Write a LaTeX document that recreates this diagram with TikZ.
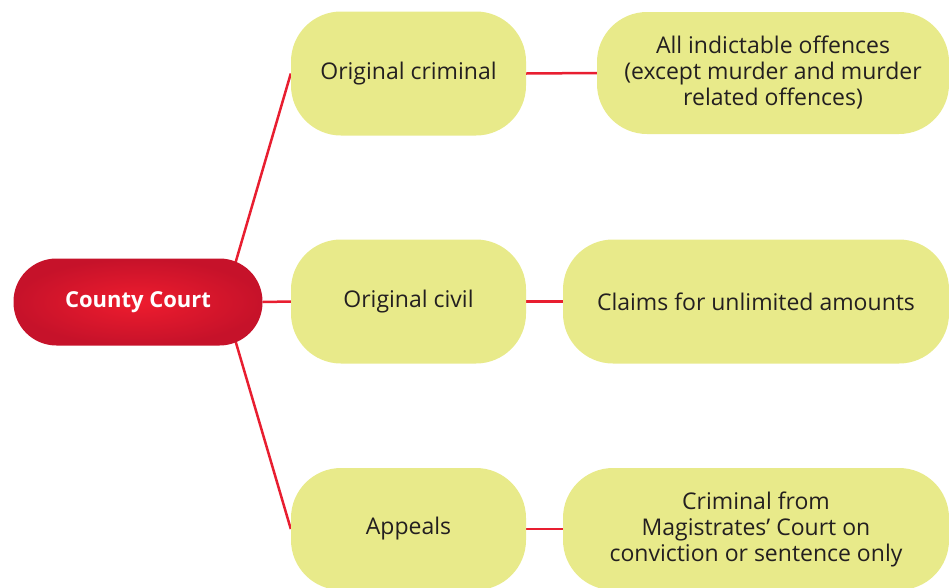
\documentclass[tikz,border=0pt]{standalone}
\usepackage{fontspec}
\setmainfont{Open Sans}
\usetikzlibrary{backgrounds}
\definecolor{boxfill}{RGB}{232,234,138}
\definecolor{linered}{RGB}{232,30,48}
\definecolor{ccin}{RGB}{238,28,46}
\definecolor{ccout}{RGB}{198,18,42}
\definecolor{txt}{RGB}{35,31,32}
\begin{document}
\begin{tikzpicture}[x=1pt,y=-1pt,
  box/.style={fill=boxfill, rounded corners=50pt, inner sep=0pt, align=center,
    text=txt, font=\fontsize{23}{26}\selectfont},
  hubbox/.style={inner color=ccin, outer color=ccout, rounded corners=43pt,
    text=white, font=\bfseries\fontsize{22}{26}\selectfont,
    minimum width=249pt, minimum height=87pt, inner sep=0pt},
  link/.style={draw=linered, line width=2.5pt}]
\useasboundingbox (0,0) rectangle (949,587);
\node[hubbox] (cc) at (138,302) {County Court};
\node[box, minimum width=235pt, minimum height=124pt] (b1) at (408.5,73.5) {Original criminal};
\node[box, minimum width=235pt, minimum height=124pt] (b2) at (408.5,301.5) {Original civil};
\node[box, minimum width=235pt, minimum height=122pt] (b3) at (408.5,529) {Appeals};
\node[box, minimum width=352pt, minimum height=122pt] (r1) at (773,73) {All indictable offences\\(except murder and murder\\related offences)};
\node[box, minimum width=386pt, minimum height=124pt] (r2) at (756,301.5) {Claims for unlimited amounts};
\node[box, minimum width=386pt, minimum height=122pt] (r3) at (756,529) {Criminal from\\Magistrates’ Court on\\conviction or sentence only};
\coordinate (hub) at (224,302);
\begin{scope}[on background layer]
\draw[link] (hub) -- (b1.west);
\draw[link] (cc.east) -- (b2.west);
\draw[link] (hub) -- (b3.west);
\draw[link] (b1.east) -- (r1.west);
\draw[link] (b2.east) -- (r2.west);
\draw[link] (b3.east) -- (r3.west);
\end{scope}
\end{tikzpicture}
\end{document}
